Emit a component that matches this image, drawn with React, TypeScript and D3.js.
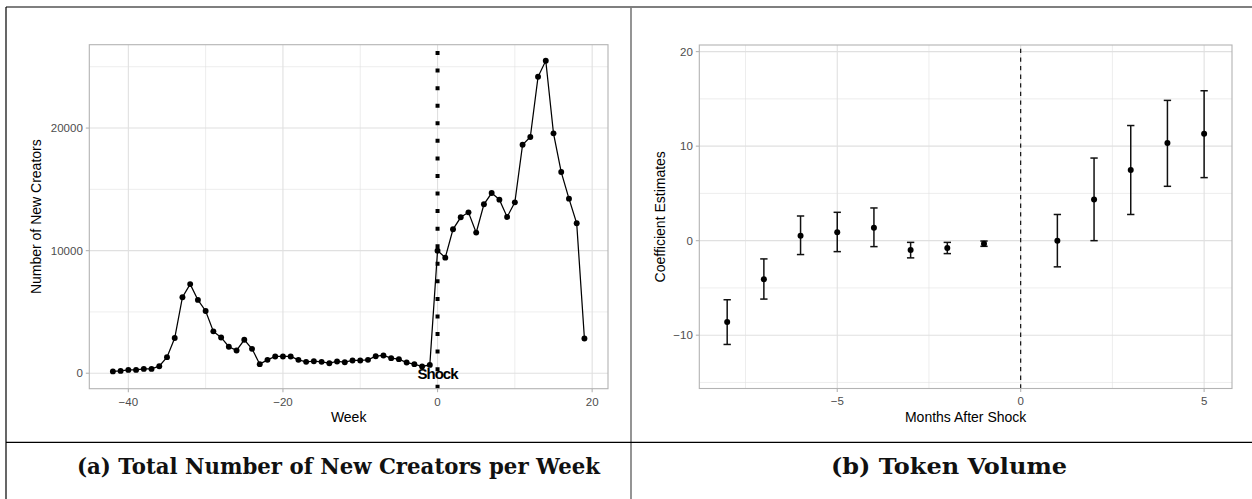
import React from "react";
import * as d3 from "d3";

// ---------- Data: panel (a) ----------
const weeks = [
  -42, -41, -40, -39, -38, -37, -36, -35, -34, -33, -32, -31, -30, -29, -28, -27, -26, -25, -24, -23,
  -22, -21, -20, -19, -18, -17, -16, -15, -14, -13, -12, -11, -10, -9, -8, -7, -6, -5, -4, -3, -2, -1,
  0, 1, 2, 3, 4, 5, 6, 7, 8, 9, 10, 11, 12, 13, 14, 15, 16, 17, 18, 19,
];
const newCreators = [
  150, 190, 270, 270, 355, 355, 575, 1310, 2870, 6200, 7270, 5980, 5080, 3415, 2920, 2160, 1860, 2730, 1990, 740,
  1090, 1370, 1370, 1370, 1090, 930, 980, 930, 820, 960, 900, 1040, 1040, 1090, 1390, 1450, 1230, 1150, 870, 740, 550, 680,
  10000, 9430, 11740, 12720, 13125, 11470, 13780, 14700, 14160, 12750, 13940, 18640, 19270, 24180, 25490, 19570, 16410, 14240, 12230, 2830,
];
const weekTicks = [-40, -20, 0, 20];
const weekMinor = [-30, -10, 10];
const creatorTicks = [0, 10000, 20000];
const creatorMinor = [5000, 15000, 25000];
const shockLabel = "Shock";

// ---------- Data: panel (b) ----------
const months = [-8, -7, -6, -5, -4, -3, -2, -1, 1, 2, 3, 4, 5];
const estimates = [-8.6, -4.07, 0.53, 0.88, 1.37, -0.98, -0.77, -0.32, 0.0, 4.35, 7.47, 10.32, 11.3];
const lowerCI = [-10.98, -6.18, -1.47, -1.16, -0.63, -1.82, -1.37, -0.6, -2.77, 0.0, 2.77, 5.75, 6.67];
const upperCI = [-6.25, -1.93, 2.61, 3.0, 3.46, -0.18, -0.18, -0.04, 2.77, 8.74, 12.18, 14.84, 15.86];
const monthTicks = [-5, 0, 5];
const monthMinor = [-7.5, -2.5, 2.5];
const coefTicks = [-10, 0, 10, 20];
const coefMinor = [-15, -5, 5, 15];

const captionA = "(a) Total Number of New Creators per Week";
const captionB = "(b) Token Volume";

const W = 1252;
const H = 499;
const SANS = "'Liberation Sans', Arial, Helvetica, sans-serif";
const SERIF = "'DejaVu Serif', Georgia, serif";
const fmt = d3.format("d");
const minus = (v: number) => fmt(v).replace("-", "\u2212");

type PanelProps = {
  x0: number; x1: number; y0: number; y1: number;
  xs: d3.ScaleLinear<number, number>;
  ys: d3.ScaleLinear<number, number>;
  xMajor: number[]; xMinor: number[]; yMajor: number[]; yMinor: number[];
  xTitle: string; yTitle: string; yTitleX: number;
  children?: React.ReactNode;
};

function Panel(p: PanelProps) {
  const gridC = "#E0E0E0";
  const tickC = "#B3B3B3";
  const labC = "#4D4D4D";
  return (
    <g>
      <rect x={p.x0} y={p.y0} width={p.x1 - p.x0} height={p.y1 - p.y0} fill="#fff" />
      {p.yMinor.map((v) => (
        <line key={"ym" + v} x1={p.x0} x2={p.x1} y1={p.ys(v)} y2={p.ys(v)} stroke={gridC} strokeWidth={0.6} />
      ))}
      {p.xMinor.map((v) => (
        <line key={"xm" + v} y1={p.y0} y2={p.y1} x1={p.xs(v)} x2={p.xs(v)} stroke={gridC} strokeWidth={0.6} />
      ))}
      {p.yMajor.map((v) => (
        <line key={"yM" + v} x1={p.x0} x2={p.x1} y1={p.ys(v)} y2={p.ys(v)} stroke={gridC} strokeWidth={1.1} />
      ))}
      {p.xMajor.map((v) => (
        <line key={"xM" + v} y1={p.y0} y2={p.y1} x1={p.xs(v)} x2={p.xs(v)} stroke={gridC} strokeWidth={1.1} />
      ))}
      {p.children}
      <rect x={p.x0} y={p.y0} width={p.x1 - p.x0} height={p.y1 - p.y0} fill="none" stroke={tickC} strokeWidth={1.1} />
      {p.yMajor.map((v) => (
        <g key={"yt" + v}>
          <line x1={p.x0 - 3.5} x2={p.x0} y1={p.ys(v)} y2={p.ys(v)} stroke={tickC} strokeWidth={1.1} />
          <text x={p.x0 - 6.5} y={p.ys(v) + 4.1} textAnchor="end" fontFamily={SANS} fontSize={11.5} fill={labC}>
            {minus(v)}
          </text>
        </g>
      ))}
      {p.xMajor.map((v) => (
        <g key={"xt" + v}>
          <line y1={p.y1} y2={p.y1 + 3.5} x1={p.xs(v)} x2={p.xs(v)} stroke={tickC} strokeWidth={1.1} />
          <text x={p.xs(v)} y={p.y1 + 16.8} textAnchor="middle" fontFamily={SANS} fontSize={11.5} fill={labC}>
            {minus(v)}
          </text>
        </g>
      ))}
      <text x={(p.x0 + p.x1) / 2} y={421.7} textAnchor="middle" fontFamily={SANS} fontSize={14} fill="#000">
        {p.xTitle}
      </text>
      <text
        transform={`translate(${p.yTitleX + 5},${(p.y0 + p.y1) / 2}) rotate(-90)`}
        textAnchor="middle" fontFamily={SANS} fontSize={14} fill="#000"
      >
        {p.yTitle}
      </text>
    </g>
  );
}

export default function App() {
  // Panel (a)
  const aX0 = 89.3, aX1 = 608, aY0 = 44.7, aY1 = 388.7;
  const xsA = d3.scaleLinear().domain([-45.05, 22.05]).range([aX0, aX1]);
  const ysA = d3.scaleLinear().domain([-1262, 26800]).range([aY1, aY0]);
  const pts = weeks.map((w, i) => [w, newCreators[i]] as [number, number]);
  const lineGen = d3.line<[number, number]>().x((d) => xsA(d[0])).y((d) => ysA(d[1]));

  // Panel (b)
  const bX0 = 699.3, bX1 = 1232, bY0 = 45, bY1 = 388.5;
  const xsB = d3.scaleLinear().domain([-8.76, 5.76]).range([bX0, bX1]);
  const ysB = d3.scaleLinear().domain([-15.64, 20.7]).range([bY1, bY0]);
  const capHalf = (xsB(0.1) - xsB(0));

  return (
    <svg
      width={W}
      height={H}
      viewBox={`0 0 ${W} ${H}`}
      style={{ position: "absolute", left: 0, top: 0, background: "#fff" }}
    >
      <rect x={0} y={0} width={W} height={H} fill="#fff" />

      <Panel
        x0={aX0} x1={aX1} y0={aY0} y1={aY1} xs={xsA} ys={ysA}
        xMajor={weekTicks} xMinor={weekMinor} yMajor={creatorTicks} yMinor={creatorMinor}
        xTitle="Week" yTitle="Number of New Creators" yTitleX={35.7}
      >
        <path d={lineGen(pts) || ""} fill="none" stroke="#000" strokeWidth={1.25} />
        {pts.map((d, i) => (
          <circle key={i} cx={xsA(d[0])} cy={ysA(d[1])} r={2.95} fill="#000" />
        ))}
        <line
          x1={xsA(0)} x2={xsA(0)} y1={aY1} y2={aY0}
          stroke="#000" strokeWidth={4} strokeDasharray="4 13.56"
        />
        <text
          x={xsA(0)} y={ysA(0) + 5.5} textAnchor="middle" fontFamily={SANS}
          fontWeight="bold" fontSize={15} letterSpacing={-1} fill="#000"
        >
          {shockLabel}
        </text>
      </Panel>

      <Panel
        x0={bX0} x1={bX1} y0={bY0} y1={bY1} xs={xsB} ys={ysB}
        xMajor={monthTicks} xMinor={monthMinor} yMajor={coefTicks} yMinor={coefMinor}
        xTitle="Months After Shock" yTitle="Coefficient Estimates" yTitleX={659.6}
      >
        <line
          x1={xsB(0)} x2={xsB(0)} y1={bY1} y2={bY0}
          stroke="#000" strokeWidth={1.1} strokeDasharray="4.3 4.3"
        />
        {months.map((m, i) => (
          <g key={m}>
            <line x1={xsB(m)} x2={xsB(m)} y1={ysB(lowerCI[i])} y2={ysB(upperCI[i])} stroke="#111" strokeWidth={1.5} />
            <line x1={xsB(m) - capHalf} x2={xsB(m) + capHalf} y1={ysB(lowerCI[i])} y2={ysB(lowerCI[i])} stroke="#111" strokeWidth={1.5} />
            <line x1={xsB(m) - capHalf} x2={xsB(m) + capHalf} y1={ysB(upperCI[i])} y2={ysB(upperCI[i])} stroke="#111" strokeWidth={1.5} />
            <circle cx={xsB(m)} cy={ysB(estimates[i])} r={3} fill="#000" />
          </g>
        ))}
      </Panel>

      {/* table frame */}
      <line x1={6} x2={W} y1={7} y2={7} stroke="#000" strokeWidth={1.2} />
      <line x1={6} x2={6} y1={7} y2={H} stroke="#000" strokeWidth={1.2} />
      <line x1={631} x2={631} y1={7} y2={H} stroke="#7a7a7a" strokeWidth={1.6} />
      <line x1={6} x2={W} y1={442.3} y2={442.3} stroke="#000" strokeWidth={1.2} />

      <text x={338.5} y={474} textAnchor="middle" fontFamily={SERIF} fontWeight="bold" fontSize={22}
        textLength={523} lengthAdjust="spacingAndGlyphs" fill="#111">
        {captionA}
      </text>
      <text x={949} y={474} textAnchor="middle" fontFamily={SERIF} fontWeight="bold" fontSize={22}
        textLength={236} lengthAdjust="spacingAndGlyphs" fill="#111">
        {captionB}
      </text>
    </svg>
  );
}
